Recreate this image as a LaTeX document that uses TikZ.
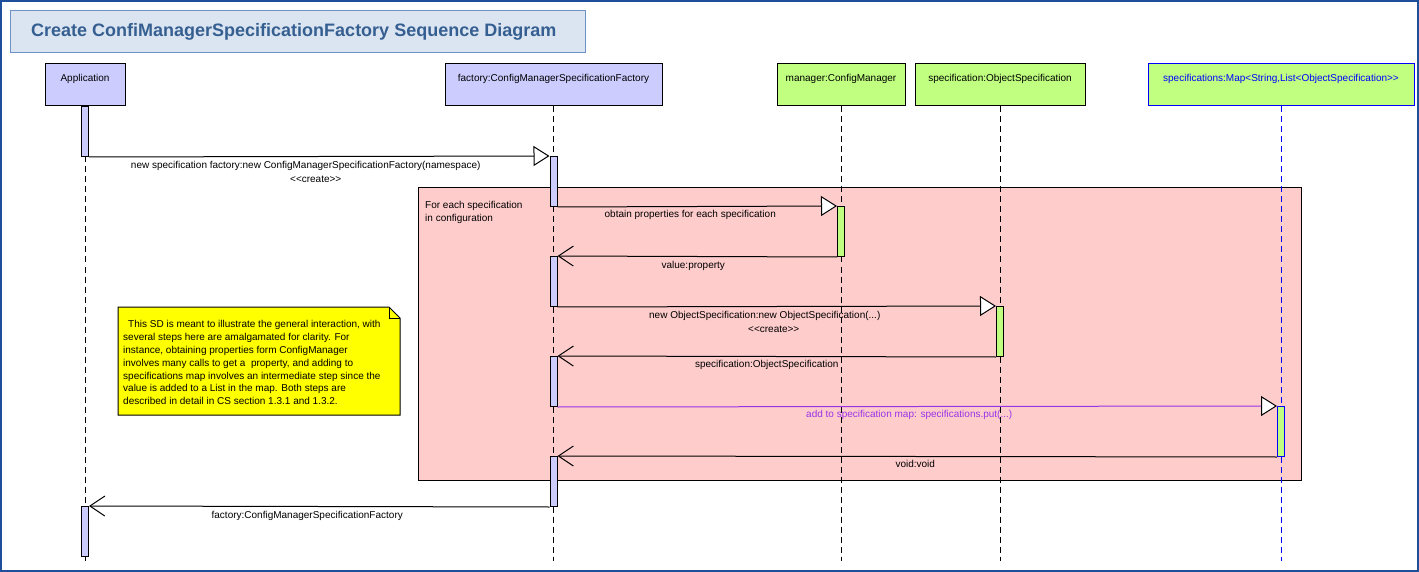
\documentclass[tikz,border=0pt]{standalone}
\usepackage{fontspec}
\setmainfont{Liberation Sans}
\usetikzlibrary{arrows.meta}

\definecolor{frameblue}{RGB}{31,78,154}
\definecolor{titlefill}{RGB}{219,229,241}
\definecolor{titleedge}{RGB}{110,145,195}
\definecolor{titleink}{RGB}{54,95,145}
\definecolor{lilac}{RGB}{204,204,255}
\definecolor{lime}{RGB}{192,255,128}
\definecolor{loopfill}{RGB}{255,204,204}
\definecolor{notefill}{RGB}{255,255,0}
\definecolor{putviolet}{RGB}{153,51,230}
\definecolor{mapblue}{RGB}{0,0,255}

\newcommand\msgsize{\fontsize{10}{13}\selectfont}
\newcommand\titlesize{\fontsize{18}{22}\selectfont}
\newcommand\dbl[1]{<\kern0pt<#1>\kern0pt>}

\begin{document}
\begin{tikzpicture}[x=1pt,y=-1pt,
  font=\msgsize,
  header/.style={draw=black, line width=1pt, fill=lilac, minimum height=42pt, inner sep=0pt},
  hdrtext/.style={inner sep=0pt, anchor=north, yshift=-10.5pt},
  lifeline/.style={line width=0.9pt, dash pattern=on 6pt off 4pt},
  actbar/.style={draw=black, line width=1pt, fill=lilac, minimum width=7pt,
                 minimum height=50pt, inner sep=0pt, anchor=north},
  call/.style={line width=1pt, -{Triangle[length=16pt,width=20pt,fill=white,color=black]}},
  reply/.style={line width=1pt, -{Straight Barb[length=15pt,width=20pt]}},
  msg/.style={inner sep=0pt, anchor=base},
]
\useasboundingbox (0,0) rectangle (1419,572);

% outer frame
\draw[frameblue, line width=2pt] (1,1) rectangle (1418,571);

% title banner
\node[draw=titleedge, line width=1pt, fill=titlefill, minimum width=575pt,
      minimum height=42pt, inner sep=0pt, anchor=north west] (title) at (10,10) {};
\node[anchor=west, inner sep=0pt, text=titleink, font=\titlesize\bfseries]
  (titleT) at (31,32) {Create ConfiManagerSpecificationFactory Sequence Diagram};

% loop fragment
\node[draw=black, line width=1pt, fill=loopfill, minimum width=883pt, minimum height=293pt,
      inner sep=0pt, anchor=north west] (loop) at (418,187) {};
\node[anchor=north west, align=left, inner sep=0pt] (loopT) at (425,201.5)
  {For each specification\\in configuration};

% participants
\node[header, minimum width=80pt,
      label={[hdrtext, name=appT]north:Application}] (app) at (85,85) {};
\node[header, minimum width=217pt,
      label={[hdrtext, name=facT]north:factory:ConfigManagerSpecificationFactory}] (fac) at (553.5,85) {};
\node[header, fill=lime, minimum width=128pt,
      label={[hdrtext, name=mgrT]north:manager:ConfigManager}] (mgr) at (841,85) {};
\node[header, fill=lime, minimum width=170pt,
      label={[hdrtext, name=specT]north:specification:ObjectSpecification}] (spec) at (1000,85) {};
\node[header, fill=lime, draw=mapblue, minimum width=266pt,
      label={[hdrtext, name=mapT, text=mapblue]north:specifications:Map<String,List<ObjectSpecification>\kern0pt>}] (map) at (1281,85) {};

% lifelines
\coordinate (appEnd) at (85,561);
\coordinate (facEnd) at (553.5,561);
\coordinate (mgrEnd) at (841,561);
\coordinate (specEnd) at (1000,561);
\coordinate (mapEnd) at (1281,561);
\draw[lifeline] (app.south) -- (appEnd);
\draw[lifeline] (fac.south) -- (facEnd);
\draw[lifeline] (mgr.south) -- (mgrEnd);
\draw[lifeline] (spec.south) -- (specEnd);
\draw[lifeline, mapblue] (map.south) -- (mapEnd);

% note with folded corner
\draw[line width=1pt, fill=notefill] (118,307) -- (389,307) -- (400,318) -- (400,415)
  -- (118,415) -- cycle;
\draw[line width=1pt] (389,307) -- (389,318) -- (400,318);
\node[anchor=north west, align=left, inner sep=0pt, font=\fontsize{10}{12.8}\selectfont]
  (note) at (123,320.4)
  {\hspace{5pt}This SD is meant to illustrate the general interaction, with\\
   several steps here are amalgamated for clarity. For\\
   instance, obtaining properties form ConfigManager\\
   involves many calls to get a\ \ property, and adding to\\
   specifications map involves an intermediate step since the\\
   value is added to a List in the map. Both steps are\\
   described in detail in CS section 1.3.1 and 1.3.2.};

% activation bars
\node[actbar] (a1) at (85,106) {};
\node[actbar] (f1) at (553.5,156) {};
\node[actbar, fill=lime] (m1) at (841,206) {};
\node[actbar] (f2) at (553.5,256) {};
\node[actbar, fill=lime] (s1) at (1000,306) {};
\node[actbar] (f3) at (553.5,356) {};
\node[actbar, fill=lime, draw=mapblue] (p1) at (1281,406) {};
\node[actbar] (f4) at (553.5,456) {};
\node[actbar] (a2) at (85,506) {};

% messages
\draw[call] (a1.south east) -- (f1.north west)
  node[msg, midway, xshift=-13.5pt, yshift=-11.6pt] (m1T)
    {new specification factory:new ConfigManagerSpecificationFactory(namespace)}
  node[msg, midway, xshift=-3.5pt, yshift=-25.6pt] (m1C) {\dbl{create}};
\draw[call] (f1.south east) -- (m1.north west)
  node[msg, midway, xshift=-7pt, yshift=-10.6pt] (m2T) {obtain properties for each specification};
\draw[reply] (m1.south west) -- (f2.north east)
  node[msg, midway, xshift=-4pt, yshift=-11.6pt] (m3T) {value:property};
\draw[call] (f2.south east) -- (s1.north west)
  node[msg, midway, xshift=-12pt, yshift=-11.6pt] (m4T) {new ObjectSpecification:new ObjectSpecification(...)}
  node[msg, midway, xshift=-3pt, yshift=-25.6pt] (m4C) {\dbl{create}};
\draw[reply] (s1.south west) -- (f3.north east)
  node[msg, midway, xshift=-10pt, yshift=-10.6pt] (m5T) {specification:ObjectSpecification};
\draw[call, putviolet] (f3.south east) -- (p1.north west)
  node[msg, midway, xshift=-8pt, yshift=-10.6pt, text=putviolet] (m6T)
    {add to specification map: specifications.put(...)};
\draw[reply] (p1.south west) -- (f4.north east)
  node[msg, midway, xshift=-2pt, yshift=-10.6pt] (m7T) {void:void};
\draw[reply] (f4.south west) -- (a2.north east)
  node[msg, midway, xshift=-12pt, yshift=-11.6pt] (m8T) {factory:ConfigManagerSpecificationFactory};
\end{tikzpicture}
\end{document}
